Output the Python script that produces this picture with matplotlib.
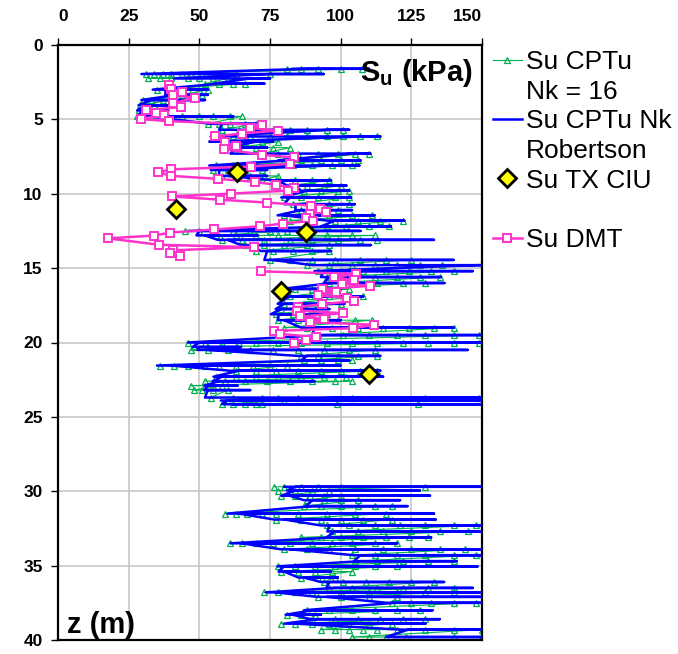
import numpy as np
import matplotlib
matplotlib.use('Agg')
import matplotlib.pyplot as plt
from matplotlib.lines import Line2D

plt.rcParams['font.family'] = ['Liberation Sans', 'DejaVu Sans']
plt.rcParams['mathtext.fontset'] = 'custom'
plt.rcParams['mathtext.rm'] = 'Liberation Sans'
plt.rcParams['mathtext.bf'] = 'Liberation Sans:bold'
plt.rcParams['mathtext.it'] = 'Liberation Sans:italic'

# ---------------- data ----------------
# CPTu profile, upper part: band depth (m) and values (kPa) at that depth
cptu_upper_depth = [1.6, 1.95, 2.25, 2.6, 3.0, 3.35, 3.7, 4.05, 4.4, 4.8,
                    5.3, 5.7, 6.15, 6.5, 6.9, 7.3, 7.75, 8.1, 8.4, 8.8,
                    9.1, 9.45, 9.8, 10.25, 10.7, 11.1, 11.45, 11.8, 12.2, 12.5,
                    12.8, 13.1, 13.45, 13.85, 14.45, 14.8, 15.2, 15.6, 16.0, 16.4,
                    16.9, 17.4, 17.75, 18.1, 18.5, 19.0, 19.5, 20.0, 20.3, 20.5,
                    20.9, 21.2, 21.55, 21.9, 22.3, 22.6, 22.9, 23.2, 23.7, 23.9, 24.15]
nk16_upper_su = [
    [81, 86, 92, 100, 107.5], [31, 34, 37, 40, 44, 47, 51, 63, 75], [32, 36, 40, 46, 50, 55, 60],
    [52, 57, 62, 66], [35, 40, 46, 50, 53], [44, 48, 51], [30, 33, 37, 40], [29, 31.5, 34],
    [28.5, 31, 35], [28, 33, 39, 44, 50, 55, 61, 65], [53, 57, 61, 66, 70],
    [58, 64, 70, 76, 82, 88, 95, 101], [56, 62, 68, 75, 81, 88, 95, 101, 107, 113],
    [60, 66, 72, 78], [64, 70, 76, 82], [72, 78, 85, 92, 99, 105, 110], [80, 86, 93, 100, 106],
    [56, 62, 70, 76, 83, 90, 97, 104], [55, 60, 66, 72], [58, 63, 68, 73, 78],
    [72, 78, 84, 90, 96], [82, 88, 94, 100], [87, 93, 99, 103], [80, 86, 92, 98, 103],
    [83, 89, 96, 103], [86, 92, 99], [80, 88, 96, 104, 111], [82, 90, 98, 106, 114, 122],
    [95, 102, 110, 117], [45, 50, 56, 62, 68, 75, 81], [56, 63, 70, 78, 86, 95, 104, 112],
    [58, 65, 73, 82, 90, 99, 107, 113], [66, 73, 80, 88, 96], [70, 76, 83, 90, 96],
    [75, 82, 90, 98, 107, 116, 125], [88, 96, 104, 112, 120, 128, 136],
    [92, 100, 108, 116, 124, 132, 140], [95, 103, 112, 120, 128, 135], [96, 104, 113, 122, 130],
    [84, 90, 96, 103], [82, 89, 96, 103, 108], [80, 87, 94, 100], [79, 85, 91], [77, 83, 89, 95],
    [78, 85, 92, 99, 105, 111], [80, 88, 97, 106, 115, 124, 133, 140],
    [92, 101, 110, 120, 130, 140, 149],
    [46, 52, 58, 64, 70, 78, 86, 95, 104, 113, 122, 131, 140, 149], [48, 53, 58, 63],
    [47, 53, 60, 68, 76, 85, 94, 103, 112], [86, 92, 99, 106, 113], [87, 93, 99, 104],
    [36, 41, 46, 52, 57, 63, 69, 75, 81], [63, 70, 77, 85, 93, 100, 107, 113],
    [56, 63, 70, 78, 86, 94, 102, 110], [52, 59, 66, 74, 82, 90, 98, 104], [47, 52, 55, 58],
    [48, 51, 55, 60], [54, 62, 72, 78, 85, 104, 130, 149], [60, 66, 80],
    [58, 62, 66, 70, 72, 98.6, 127.5]]
robertson_upper_su = [
    [83, 110, 88], [29.5, 94, 34, 75], [41, 75, 45, 68], [55, 73, 57], [33.5, 53, 38],
    [38, 53, 42], [29.5, 52, 33], [28.5, 43, 31], [28, 39, 30], [28, 62, 32], [54, 72, 58],
    [57, 103, 60, 96], [54, 114, 58, 108], [53.5, 76, 57, 70], [60, 74, 63], [61, 110.5, 70, 104],
    [78, 107, 82], [53.5, 106.6, 58, 97], [54, 74, 57], [57, 74, 60], [76.5, 96.6, 78],
    [81, 102, 84], [86, 103, 88], [79, 103.7, 82], [80, 105, 84], [84, 104, 86],
    [77.7, 112, 80], [95, 122.5, 98], [93, 117.8, 96], [45.9, 107, 50], [49, 70.6, 52],
    [56.5, 133, 60], [64.7, 110.7, 68], [71.8, 96.6, 74], [73, 140, 76], [90, 158, 96, 148],
    [90.7, 146.7, 94], [93, 135.5, 96], [94, 136.7, 97], [79, 100, 82], [79, 108, 82],
    [77.7, 101.3, 80], [77, 96, 79], [75.3, 96, 78], [77.7, 100, 80], [86, 140, 90],
    [90.7, 156, 94], [45.9, 158, 50], [47.6, 64.7, 50], [49.4, 145, 53], [84.8, 114, 88],
    [86, 103, 88], [35, 100, 40], [61, 104, 85, 114, 64], [55, 115, 58], [54.7, 90.7, 57],
    [51.8, 63.5, 53], [51.8, 68, 53], [52, 158, 56, 104], [57.6, 156, 60], [58, 160, 62]]

# CPTu profile, lower part
cptu_lower_depth = [29.7, 29.95, 30.3, 30.6, 31.0, 31.5, 31.9, 32.3, 32.7, 33.1,
                    33.5, 33.9, 34.3, 34.7, 35.05, 35.4, 35.8, 36.1, 36.5, 36.8,
                    37.1, 37.5, 38.0, 38.3, 38.6, 38.9, 39.3, 39.8]
nk16_lower_su = [
    [76.4, 80, 86, 92, 100, 130], [78, 84, 90, 96], [79, 84, 89, 94, 100], [88, 94, 100, 106],
    [87, 93, 100, 106, 112, 118], [59, 63, 67, 72, 77, 85, 95, 105, 116],
    [77, 86, 93, 100, 108, 118], [95, 103, 112, 121, 130, 140, 148], [97, 106, 115, 125, 135, 145],
    [86, 93, 100, 108, 116, 124, 131], [61, 65, 70, 76, 82, 90, 97, 104, 112, 120],
    [80, 88, 96, 105, 115, 125, 135, 144], [104, 112, 120, 130, 140, 148],
    [105, 113, 122, 131, 140], [78, 84, 91, 98, 105, 112, 120], [79, 85, 91, 97, 104],
    [86, 92, 98], [94, 101, 109, 117, 125, 133], [96, 104, 113, 122, 131, 140],
    [73, 78, 84, 90, 100, 110, 120, 130, 140], [92, 100, 110, 120], [118, 125, 132, 140, 148],
    [88, 96, 104, 112, 120, 128], [81, 86, 91], [90, 98, 106, 114, 122, 130],
    [79, 84, 90, 96, 103, 110, 118], [93, 98, 103, 108, 113, 120, 130, 140, 150],
    [104, 110, 116, 123, 140, 150]]
robertson_lower_su = [
    [80, 158, 84], [81, 128, 84], [79, 131.6, 82], [87, 121, 90], [87.6, 123.6, 90],
    [60, 133, 64], [76.4, 133.6, 80], [93, 158, 96], [95.3, 156, 98], [95, 132, 98],
    [61, 120, 65], [78.8, 160, 82], [104.7, 158, 107], [104.7, 141, 107], [77.6, 148.4, 80],
    [78, 96.5, 80], [85, 99, 87], [93, 136.6, 96], [95, 146.7, 98], [73.5, 158, 77],
    [91.7, 160, 95], [116.5, 158, 119], [87, 132.5, 90], [80.5, 93, 83], [89.4, 135, 92],
    [80, 130, 84], [121, 158, 124], [116, 156, 119]]

# DMT (two runs)
dmt_depth_a = [2.7, 2.95, 3.15, 3.35, 3.57, 3.9, 4.17, 4.37, 4.55, 4.7, 4.98, 5.12, 5.36,
               5.58, 5.75, 5.95, 6.15, 6.55, 6.77, 6.99, 7.38, 7.56, 7.98, 8.17, 8.36, 8.57,
               8.8, 9.0, 9.2, 9.4, 9.59, 9.79, 9.99, 10.18, 10.4, 10.59, 10.8, 11.0, 11.2,
               11.38, 11.6, 11.81, 12.0, 12.19, 12.4, 12.61, 12.81, 13.0, 13.43, 13.59,
               13.8, 14.0, 14.2]
dmt_su_a = [39.3, 39.8, 44, 40.8, 48.3, 40.8, 43.5, 31, 34.5, 37.4, 29.2, 39.1, 72.2, 68,
            77.8, 65.1, 55.5, 59.2, 62.8, 58.6, 72.2, 83.6, 82.2, 68.3, 39.8, 35.5, 40.1,
            56.7, 69.6, 77.1, 83.6, 81.5, 61.3, 40.3, 57.3, 73.8, 89.5, 92.7, 94.8, 89.1,
            87.6, 90.3, 79.7, 71.3, 55.3, 39.7, 34, 17.8, 35.7, 69.2, 40.8, 39.6, 43]
dmt_depth_b = [15.22, 15.38, 15.6, 15.83, 16.05, 16.19, 16.41, 16.61, 16.82, 17.02, 17.22,
               17.42, 17.62, 17.85, 18.03, 18.25, 18.43, 18.63, 18.81, 19.04, 19.22, 19.42,
               19.64, 19.82, 20.04]
dmt_su_b = [71.8, 105.4, 97.8, 104.8, 100.4, 110.5, 93.4, 98.3, 92.1, 102.2, 104.8, 93.4,
            84.8, 84.6, 100.7, 85.7, 94, 89.3, 111.9, 104.5, 76.5, 78.5, 91.3, 87.7, 83.6]

# Triaxial CIU
tx_depth = [8.55, 11.03, 12.55, 16.54, 22.12]
tx_su = [63.5, 41.6, 87.7, 78.8, 110.1]

x_ticks = [0, 25, 50, 75, 100, 125, 150]
y_ticks = [0, 5, 10, 15, 20, 25, 30, 35, 40]


def flatten(depths, values):
    z, s = [], []
    for d, vals in zip(depths, values):
        z.extend([d] * len(vals))
        s.extend(vals)
    return np.array(s, dtype=float), np.array(z, dtype=float)


GREEN = '#00b050'
BLUE = '#0000ff'
PINK = '#ff33cc'

fig = plt.figure(figsize=(6.78, 6.54), dpi=100)
ax = fig.add_axes([58 / 678, 14 / 654, 424 / 678, 595 / 654])

green_kw = dict(color=GREEN, lw=0.8, marker='^', ms=5, mfc='none', mec=GREEN, mew=0.9, zorder=2)
blue_kw = dict(color=BLUE, lw=1.8, zorder=3)

for depths, g, b in [(cptu_upper_depth, nk16_upper_su, robertson_upper_su),
                     (cptu_lower_depth, nk16_lower_su, robertson_lower_su)]:
    gs, gz = flatten(depths, g)
    bs, bz = flatten(depths, b)
    ax.plot(gs, gz, **green_kw)
    ax.plot(bs, bz, **blue_kw)

pink_kw = dict(color=PINK, lw=1.8, marker='s', ms=5.5, mfc='white', mec=PINK, mew=1.4, zorder=4)
ax.plot(dmt_su_a, dmt_depth_a, **pink_kw)
ax.plot(dmt_su_b, dmt_depth_b, **pink_kw)

tx_kw = dict(ls='none', marker='D', ms=9, mfc='#ffff00', mec='black', mew=2.0, zorder=6)
ax.plot(tx_su, tx_depth, **tx_kw)

ax.set_xlim(0, 150)
ax.set_ylim(40, 0)
ax.xaxis.tick_top()
ax.set_xticks(x_ticks)
ax.set_yticks(y_ticks)
ax.tick_params(axis='both', direction='out', length=5, width=1, labelsize=12.5)
ax.tick_params(axis='x', pad=10)
ax.tick_params(axis='y', pad=6)
for lab in ax.get_xticklabels() + ax.get_yticklabels():
    lab.set_fontweight('bold')
xlabs = ax.get_xticklabels()
xlabs[0].set_ha('left')
xlabs[-1].set_ha('right')
ax.grid(True, color='#c8c8c8', lw=1.2, zorder=0)
ax.set_axisbelow(True)
for sp in ax.spines.values():
    sp.set_linewidth(1.6)
    sp.set_color('black')

ax.text(146.8, 2.42, r'$\mathbf{S_u}$ (kPa)', fontsize=21, fontweight='bold',
        ha='right', va='baseline', zorder=7)
ax.text(3.2, 39.5, 'z (m)', fontsize=21, fontweight='bold', ha='left', va='baseline', zorder=7)

blank = Line2D([], [], ls='none', marker='none')
h_green = Line2D([], [], **green_kw)
h_blue = Line2D([], [], **blue_kw)
h_tx = Line2D([], [], **tx_kw)
h_pink = Line2D([], [], **pink_kw)
handles = [h_green, blank, h_blue, blank, h_tx, blank, h_pink]
labels = ['Su CPTu', 'Nk = 16', 'Su CPTu Nk', 'Robertson', 'Su TX CIU', ' ', 'Su DMT']
fig.legend(handles, labels, loc='upper left', bbox_to_anchor=(492.7 / 678, 1 - 50.0 / 654),
           bbox_transform=fig.transFigure, frameon=False, fontsize=19, numpoints=1,
           handlelength=1.1, handletextpad=0.15, labelspacing=0.215, borderpad=0,
           borderaxespad=0)

fig.savefig('out.png', dpi=100)
